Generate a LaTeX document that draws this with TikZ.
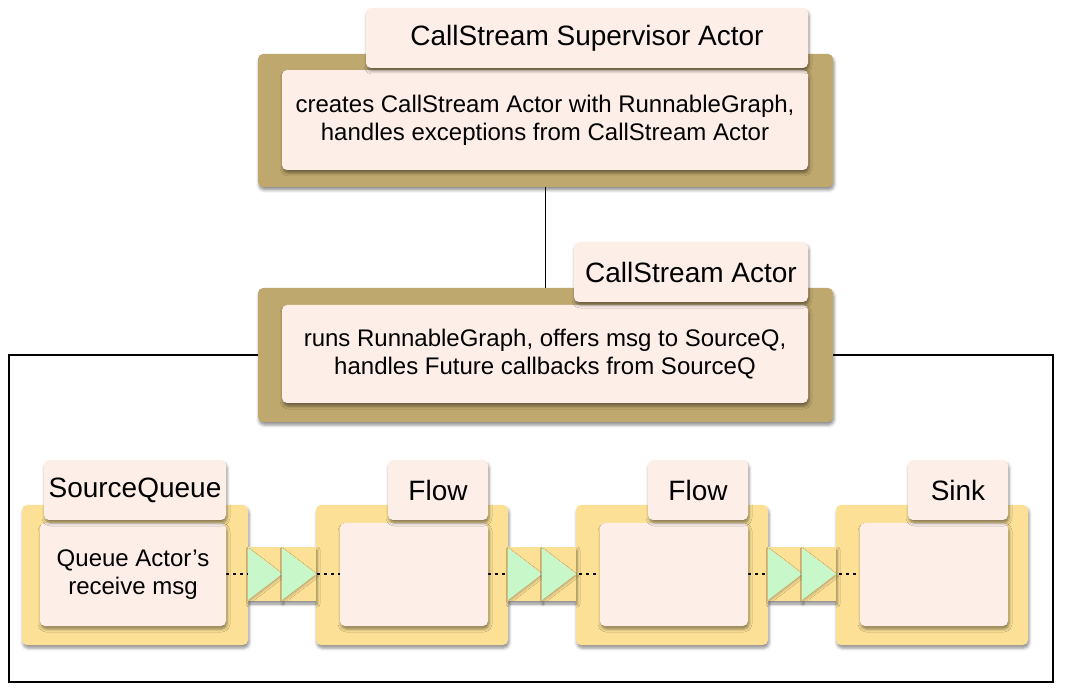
\documentclass[tikz,border=0pt]{standalone}
\usepackage{fontspec}
\setmainfont{Liberation Sans}
\usetikzlibrary{shadows.blur}
\definecolor{tanbox}{RGB}{191,168,110}
\definecolor{notepink}{RGB}{253,238,232}
\definecolor{stageyellow}{RGB}{252,224,150}
\definecolor{pipegreen}{RGB}{200,248,202}
\begin{document}
\begin{tikzpicture}[x=1pt,y=-1pt,
    softshadow/.style={blur shadow={shadow xshift=1pt,shadow yshift=-3pt,shadow blur radius=3pt,shadow opacity=45}},
    outerbox/.style={fill=tanbox,rounded corners=5pt,inner sep=0pt,softshadow},
    stagebox/.style={fill=stageyellow,rounded corners=5pt,inner sep=0pt,softshadow},
    notebox/.style={fill=notepink,rounded corners=5pt,inner sep=0pt,softshadow,align=center,font=\fontsize{24}{28}\selectfont},
    titlebox/.style={notebox,font=\fontsize{28}{32}\selectfont},
    dotline/.style={line width=1.8pt,dash pattern=on 3pt off 4pt}]
    \useasboundingbox (0,0) rectangle (1080,700);
    % frame round the stream
    \node[draw,line width=1.5pt,minimum width=1044,minimum height=327] (frame) at (531,518.5) {};
    % supervisor
    \node[outerbox,minimum width=575,minimum height=133] (supOuter) at (545.5,120.5) {};
    \node[notebox,minimum width=526,minimum height=100] (supBody) at (545,120) {creates CallStream Actor with RunnableGraph,\\handles exceptions from CallStream Actor};
    \node[titlebox,minimum width=442,minimum height=60] (supTitle) at (587,38) {CallStream Supervisor Actor};
    % callstream actor
    \node[outerbox,minimum width=575,minimum height=134] (actOuter) at (545.5,355) {};
    \draw[line width=1pt] (supOuter.south) -- (actOuter.north);
    \node[notebox,minimum width=526,minimum height=98] (actBody) at (545,354) {runs RunnableGraph, offers msg to SourceQ,\\handles Future callbacks from SourceQ};
    \node[titlebox,minimum width=234,minimum height=60] (actTitle) at (691,272) {CallStream Actor};
    % stages
    \node[stagebox,minimum width=226,minimum height=140] (srcOuter) at (135,575) {};
    \node[stagebox,minimum width=192,minimum height=140] (flowAOuter) at (412,575) {};
    \node[stagebox,minimum width=192,minimum height=140] (flowBOuter) at (672,575) {};
    \node[stagebox,minimum width=192,minimum height=140] (sinkOuter) at (932,575) {};
    \draw[dotline] (226,574) -- (341,574);
    \draw[dotline] (488,574) -- (601,574);
    \draw[dotline] (748,574) -- (861,574);
    \foreach \gx in {248,508,768}{
        \foreach \dx in {0,34}{
            \fill[stageyellow,softshadow] (\gx+\dx,547) rectangle +(34,54);
            \fill[pipegreen,blur shadow={shadow xshift=0.5pt,shadow yshift=-2pt,shadow blur radius=2pt,shadow opacity=25}] (\gx+\dx,548) -- +(34,26) -- +(0,52) -- cycle;
        }
    }
    \node[notebox,minimum width=186,minimum height=103] (srcBody) at (133,574.5) {Queue Actor’s\\receive msg};
    \node[notebox,minimum width=148,minimum height=103] (flowABody) at (414,574.5) {};
    \node[notebox,minimum width=148,minimum height=103] (flowBBody) at (674,574.5) {};
    \node[notebox,minimum width=148,minimum height=103] (sinkBody) at (934,574.5) {};
    \node[titlebox,minimum width=182,minimum height=60] (srcTitle) at (135,490) {SourceQueue};
    \node[titlebox,minimum width=100,minimum height=60] (flowATitle) at (438,490) {Flow};
    \node[titlebox,minimum width=100,minimum height=60] (flowBTitle) at (698,490) {Flow};
    \node[titlebox,minimum width=100,minimum height=60] (sinkTitle) at (958,490) {Sink};
\end{tikzpicture}
\end{document}
